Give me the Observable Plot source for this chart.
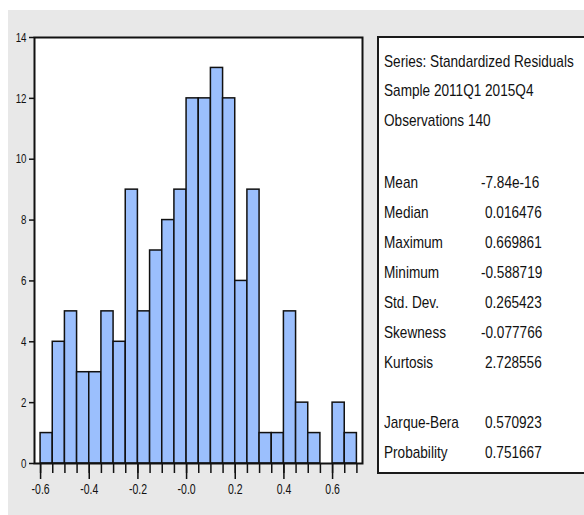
<!DOCTYPE html>
<html>
<head>
<meta charset="utf-8">
<script src="https://cdn.jsdelivr.net/npm/d3@7"></script>
<script src="https://cdn.jsdelivr.net/npm/@observablehq/plot@0.6"></script>
<style>
  html, body { margin: 0; padding: 0; background: #ffffff; }
  #wrap { position: relative; width: 584px; height: 515px; overflow: hidden; }
  #bg { position: absolute; left: 8px; top: 10px; right: 0; bottom: 0; background: #e8e8e8; }
  #chart { position: absolute; left: 0; top: 0; }
  #stats { position: absolute; left: 377px; top: 36px; width: 230px; height: 438px;
           border: 2px solid #1a1a1a; background: #ffffff; box-sizing: border-box;
           font-family: "Liberation Sans", Arial, sans-serif; font-size: 17px; color: #111; }
  .row, .val { position: absolute; height: 20px; line-height: 20px; white-space: nowrap;
               transform: scaleX(0.8); transform-origin: 0 50%; }
  .row { left: 5px; }
</style>
</head>
<body>
<div id="wrap">
  <div id="bg"></div>
  <div id="chart"></div>
  <div id="stats"></div>
</div>
<script>
// Histogram bins (left edges) and counts
const binStarts = [-0.60,-0.55,-0.50,-0.45,-0.40,-0.35,-0.30,-0.25,-0.20,-0.15,-0.10,-0.05,0.00,0.05,0.10,0.15,0.20,0.25,0.30,0.35,0.40,0.45,0.50,0.55,0.60,0.65];
const counts    = [1,4,5,3,3,5,4,9,5,7,8,9,12,12,13,12,6,9,1,1,5,2,1,0,2,1];
const binWidth = 0.05;

// Axis ticks
const yTicks = [0,2,4,6,8,10,12,14];
const xMajorTicks = [-0.6,-0.4,-0.2,0.0,0.2,0.4,0.6];
const xMajorLabels = ["-0.6","-0.4","-0.2","-0.0","0.2","0.4","0.6"];

// Statistics panel
const headerLines = ["Series: Standardized Residuals","Sample 2011Q1 2015Q4","Observations 140"];
const statNames  = ["Mean","Median","Maximum","Minimum","Std. Dev.","Skewness","Kurtosis"];
const statValues = ["-7.84e-16","0.016476","0.669861","-0.588719","0.265423","-0.077766","2.728556"];
const testNames  = ["Jarque-Bera","Probability"];
const testValues = ["0.570923","0.751667"];

const bins = binStarts.map((s, i) => ({x1: s, x2: s + binWidth, count: counts[i]}));
const xMinorTicks = binStarts.concat([binStarts[binStarts.length-1] + binWidth]);

const font = '"Liberation Sans", Arial, sans-serif';

const plot = Plot.plot({
  width: 584,
  height: 515,
  marginLeft: 34,
  marginTop: 37,
  marginRight: 222,
  marginBottom: 52,
  style: {background: "transparent", fontFamily: font, color: "#111"},
  x: {domain: [-0.625, 0.723]},
  y: {domain: [0, 14]},
  marks: [
    Plot.frame({fill: "white"}),
    Plot.rectY(bins, {x1: "x1", x2: "x2", y: "count", fill: "#9bbffd", stroke: "#111", strokeWidth: 1.5}),
    Plot.axisY({ticks: yTicks, tickSize: 5, tickPadding: 3, fontSize: 13, stroke: "#111", strokeWidth: 1.5, label: null}),
    Plot.axisX({ticks: xMinorTicks, tickSize: 10, tickFormat: () => "", stroke: "#111", strokeWidth: 1.5, label: null}),
    Plot.axisX({ticks: xMajorTicks, tickSize: 16, tickPadding: 5, fontSize: 14,
                tickFormat: (d) => xMajorLabels[xMajorTicks.indexOf(d)], stroke: "#111", strokeWidth: 1.5, label: null}),
    Plot.frame({stroke: "#111", strokeWidth: 2})
  ]
});
document.getElementById("chart").appendChild(plot);

// Condense tick label glyphs horizontally around their anchor (the reference uses a narrow face)
plot.querySelectorAll("text").forEach((t) => {
  try {
    const b = t.getBBox();
    if (!(b.width > 0)) return;
    const anchor = getComputedStyle(t).textAnchor || t.getAttribute("text-anchor") || "start";
    const ax = anchor === "end" ? b.x + b.width : anchor === "middle" ? b.x + b.width / 2 : b.x;
    if (!isFinite(ax)) return;
    const prev = t.getAttribute("transform") || "";
    t.setAttribute("transform", `${prev} translate(${ax},0) scale(0.75,1) translate(${-ax},0)`);
  } catch (e) {}
});

// Stats panel text
const stats = document.getElementById("stats");
function addRow(top, label, value) {
  const r = document.createElement("div");
  r.className = "row";
  r.style.top = top + "px";
  r.textContent = label;
  stats.appendChild(r);
  if (value !== undefined) {
    const v = document.createElement("div");
    v.className = "val";
    v.style.top = top + "px";
    v.style.left = (value.startsWith("-") ? 102 : 106) + "px";
    v.textContent = value;
    stats.appendChild(v);
  }
}
const headerTops = [14, 43, 73];
headerLines.forEach((t, i) => addRow(headerTops[i], t));
statNames.forEach((n, i) => addRow(135 + 30 * i, n, statValues[i]));
testNames.forEach((n, i) => addRow(375 + 30 * i, n, testValues[i]));
</script>
</body>
</html>
